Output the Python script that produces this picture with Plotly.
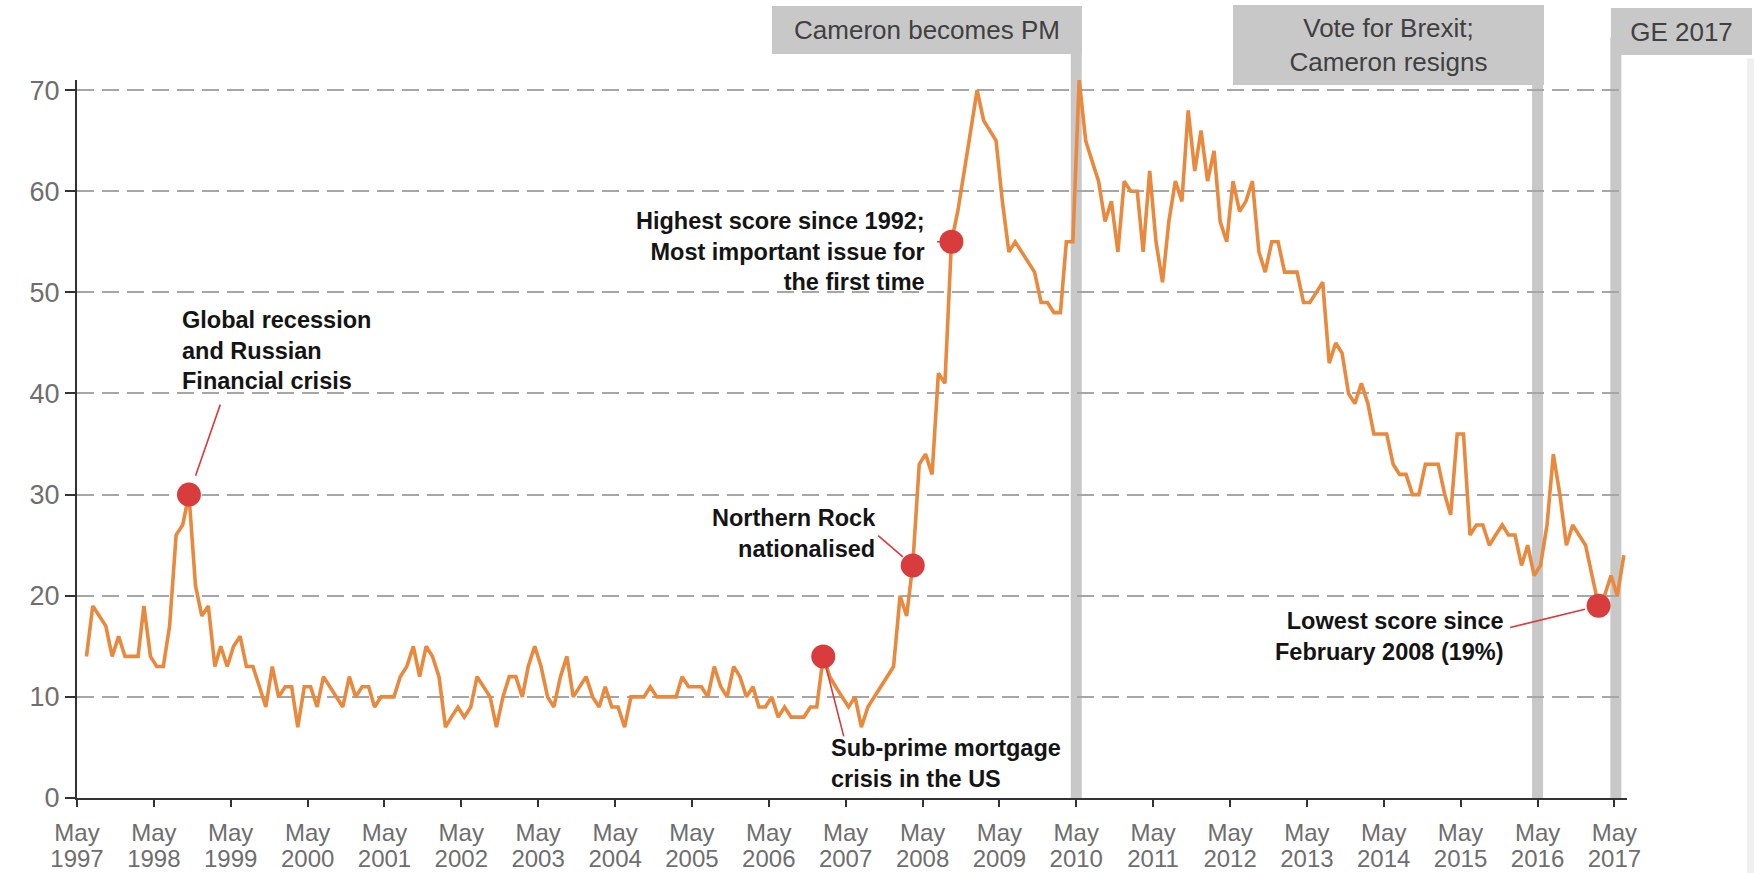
import plotly.graph_objects as go

# ---------------- data ----------------
survey_months = [
    "1997-06", "1997-07", "1997-08", "1997-09", "1997-10", "1997-11", "1997-12",
    "1998-01", "1998-02", "1998-03", "1998-04", "1998-05", "1998-06", "1998-07", "1998-08", "1998-09", "1998-10", "1998-11", "1998-12",
    "1999-01", "1999-02", "1999-03", "1999-04", "1999-05", "1999-06", "1999-07", "1999-08", "1999-09", "1999-10", "1999-11", "1999-12",
    "2000-01", "2000-02", "2000-03", "2000-04", "2000-05", "2000-06", "2000-07", "2000-08", "2000-09", "2000-10", "2000-11", "2000-12",
    "2001-01", "2001-02", "2001-03", "2001-04", "2001-05", "2001-06", "2001-07", "2001-08", "2001-09", "2001-10", "2001-11", "2001-12",
    "2002-01", "2002-02", "2002-03", "2002-04", "2002-05", "2002-06", "2002-07", "2002-08", "2002-09", "2002-10", "2002-11", "2002-12",
    "2003-01", "2003-02", "2003-03", "2003-04", "2003-05", "2003-06", "2003-07", "2003-08", "2003-09", "2003-10", "2003-11", "2003-12",
    "2004-01", "2004-02", "2004-03", "2004-04", "2004-05", "2004-06", "2004-07", "2004-08", "2004-09", "2004-10", "2004-11", "2004-12",
    "2005-01", "2005-02", "2005-03", "2005-04", "2005-05", "2005-06", "2005-07", "2005-08", "2005-09", "2005-10", "2005-11", "2005-12",
    "2006-01", "2006-02", "2006-03", "2006-04", "2006-05", "2006-06", "2006-07", "2006-08", "2006-09", "2006-10", "2006-11", "2006-12",
    "2007-01", "2007-02", "2007-03", "2007-04", "2007-05", "2007-06", "2007-07", "2007-08", "2007-09", "2007-10", "2007-11", "2007-12",
    "2008-01", "2008-02", "2008-03", "2008-04", "2008-05", "2008-06", "2008-07", "2008-08", "2008-09", "2008-10", "2008-11", "2008-12",
    "2009-01", "2009-02", "2009-03", "2009-04", "2009-05", "2009-06", "2009-07", "2009-08", "2009-09", "2009-10", "2009-11", "2009-12",
    "2010-01", "2010-02", "2010-03", "2010-04", "2010-05", "2010-06", "2010-07", "2010-08", "2010-09", "2010-10", "2010-11", "2010-12",
    "2011-01", "2011-02", "2011-03", "2011-04", "2011-05", "2011-06", "2011-07", "2011-08", "2011-09", "2011-10", "2011-11", "2011-12",
    "2012-01", "2012-02", "2012-03", "2012-04", "2012-05", "2012-06", "2012-07", "2012-08", "2012-09", "2012-10", "2012-11", "2012-12",
    "2013-01", "2013-02", "2013-03", "2013-04", "2013-05", "2013-06", "2013-07", "2013-08", "2013-09", "2013-10", "2013-11", "2013-12",
    "2014-01", "2014-02", "2014-03", "2014-04", "2014-05", "2014-06", "2014-07", "2014-08", "2014-09", "2014-10", "2014-11", "2014-12",
    "2015-01", "2015-02", "2015-03", "2015-04", "2015-05", "2015-06", "2015-07", "2015-08", "2015-09", "2015-10", "2015-11", "2015-12",
    "2016-01", "2016-02", "2016-03", "2016-04", "2016-05", "2016-06", "2016-07", "2016-08", "2016-09", "2016-10", "2016-11", "2016-12",
    "2017-01", "2017-02", "2017-03", "2017-04", "2017-05", "2017-06",
]

economy_pct = [
    14, 19, 18, 17, 14, 16, 14,
    14, 14, 19, 14, 13, 13, 17, 26, 27, 30, 21, 18,
    19, 13, 15, 13, 15, 16, 13, 13, 11, 9, 13, 10,
    11, 11, 7, 11, 11, 9, 12, 11, 10, 9, 12, 10,
    11, 11, 9, 10, 10, 10, 12, 13, 15, 12, 15, 14,
    12, 7, 8, 9, 8, 9, 12, 11, 10, 7, 10, 12,
    12, 10, 13, 15, 13, 10, 9, 12, 14, 10, 11, 12,
    10, 9, 11, 9, 9, 7, 10, 10, 10, 11, 10, 10,
    10, 10, 12, 11, 11, 11, 10, 13, 11, 10, 13, 12,
    10, 11, 9, 9, 10, 8, 9, 8, 8, 8, 9, 9,
    14, 12, 11, 10, 9, 10, 7, 9, 10, 11, 12, 13,
    20, 18, 23, 33, 34, 32, 42, 41, 55, 58, 62, 66,
    70, 67, 66, 65, 59, 54, 55, 54, 53, 52, 49, 49,
    48, 48, 55, 55, 71, 65, 63, 61, 57, 59, 54, 61,
    60, 60, 54, 62, 55, 51, 57, 61, 59, 68, 62, 66,
    61, 64, 57, 55, 61, 58, 59, 61, 54, 52, 55, 55,
    52, 52, 52, 49, 49, 50, 51, 43, 45, 44, 40, 39,
    41, 39, 36, 36, 36, 33, 32, 32, 30, 30, 33, 33,
    33, 30, 28, 36, 36, 26, 27, 27, 25, 26, 27, 26,
    26, 23, 25, 22, 23, 27, 34, 30, 25, 27, 26, 25,
    22, 19, 20, 22, 20, 24,
]

event_months = ["1998-10", "2007-01", "2008-03", "2008-09", "2017-02"]
event_values = [30, 14, 23, 55, 19]
event_texts = [
    "Global recession<br>and Russian<br>Financial crisis",
    "Sub-prime mortgage<br>crisis in the US",
    "Northern Rock<br>nationalised",
    "Highest score since 1992;<br>Most important issue for<br>the first time",
    "Lowest score since<br>February 2008 (19%)",
]

period_dates = ["2010-05-01", "2016-05-01", "2017-05-08"]
period_labels = ["Cameron becomes PM", "Vote for Brexit;<br>Cameron resigns", "GE 2017"]

tick_dates = ["%d-05-01" % y for y in range(1997, 2018)]
tick_month_labels = ["May"] * len(tick_dates)
tick_year_labels = [str(y) for y in range(1997, 2018)]
y_ticks = [0, 10, 20, 30, 40, 50, 60, 70]

# ---------------- styles / layout positions ----------------
LINE_COLOR = "#E8893E"
DOT_COLOR = "#D83C3C"
BAR_COLOR = "#C8C8C8"
FONT = "Arial, Liberation Sans, sans-serif"
X_RANGE = ["1997-05-01", "2017-06-30"]

# text placement relative to each event dot (px)
txt_style = [
    dict(xanchor="left", align="left", xshift=-9, yshift=144),
    dict(xanchor="left", align="left", xshift=6, yshift=-107),
    dict(xanchor="right", align="right", xshift=-35, yshift=32),
    dict(xanchor="right", align="right", xshift=-24, yshift=-10),
    dict(xanchor="right", align="right", xshift=-93, yshift=-31),
]
# connector lines (tail offset from the dot, px)
arrow_style = [
    dict(ax=32, ay=-92, standoff=20),
    dict(ax=21, ay=82, standoff=12),
    dict(ax=-36, ay=-31, standoff=13),
    dict(ax=-16, ay=0, standoff=11),
    dict(ax=-90, ay=22, standoff=14),
]
box_style = [
    dict(xanchor="right", xshift=5.5, yshift=26, width=310, height=48),
    dict(xanchor="right", xshift=6.3, yshift=-5, width=311, height=80),
    dict(xanchor="left", xshift=-5.3, yshift=25, width=141, height=47),
]

fig = go.Figure()

fig.add_trace(go.Scatter(
    x=[m + "-15" for m in survey_months], y=economy_pct,
    mode="lines", line=dict(color=LINE_COLOR, width=3.6),
    hoverinfo="skip", showlegend=False,
))
fig.add_trace(go.Scatter(
    x=[m + "-15" for m in event_months], y=event_values,
    mode="markers", marker=dict(color=DOT_COLOR, size=24),
    hoverinfo="skip", showlegend=False,
))
# empty trace so the second (year-label) x axis is drawn
fig.add_trace(go.Scatter(x=[], y=[], xaxis="x2", yaxis="y", showlegend=False, hoverinfo="skip"))

shapes = []
for d in period_dates:
    shapes.append(dict(type="line", xref="x", yref="paper", x0=d, x1=d, y0=0, y1=1.06,
                       line=dict(color=BAR_COLOR, width=11), layer="between"))
# faint strip at the far right edge
shapes.append(dict(type="rect", xref="paper", yref="paper", x0=1.0775, x1=1.09, y0=-0.11, y1=1.03,
                   fillcolor="#F0F0F0", line=dict(width=0), layer="below"))

annotations = []
for d, lab, st in zip(period_dates, period_labels, box_style):
    annotations.append(dict(
        x=d, xref="x", y=1, yref="paper", yanchor="bottom", text=lab, showarrow=False,
        bgcolor=BAR_COLOR, borderpad=0, borderwidth=0,
        font=dict(family=FONT, size=26, color="#404040"), **st))

for m, v, t, st, ar in zip(event_months, event_values, event_texts, txt_style, arrow_style):
    annotations.append(dict(
        x=m + "-15", y=v, xref="x", yref="y", text=t, showarrow=False, yanchor="middle",
        font=dict(family=FONT, size=23.5, color="#141414", weight="bold"), **st))
    annotations.append(dict(
        x=m + "-15", y=v, xref="x", yref="y", text=" ", showarrow=True, arrowhead=0,
        arrowwidth=1.6, arrowcolor=DOT_COLOR, axref="pixel", ayref="pixel",
        font=dict(size=1), **ar))

tick_font = dict(family=FONT, size=24, color="#6E6E6E")

fig.update_layout(
    width=1754, height=873,
    margin=dict(l=77, r=127, t=80, b=75),
    paper_bgcolor="white", plot_bgcolor="white",
    shapes=shapes, annotations=annotations,
    showlegend=False,
    xaxis=dict(
        type="date", range=X_RANGE,
        tickmode="array", tickvals=tick_dates, ticktext=tick_month_labels,
        showgrid=False, zeroline=False, automargin=False,
        showline=True, linecolor="#333333", linewidth=2,
        ticks="outside", ticklen=7, tickwidth=2, tickcolor="#333333",
        ticklabelstandoff=5, tickfont=tick_font,
    ),
    xaxis2=dict(
        type="date", range=X_RANGE, overlaying="x", anchor="y", side="bottom",
        tickmode="array", tickvals=tick_dates, ticktext=tick_year_labels,
        showgrid=False, zeroline=False, automargin=False, showline=False,
        ticks="", ticklabelstandoff=44, tickfont=tick_font,
    ),
    yaxis=dict(
        range=[0, 71], tickmode="array", tickvals=y_ticks,
        showgrid=True, gridcolor="#A6A6A6", gridwidth=2, griddash="17px,8px",
        zeroline=False, automargin=False,
        showline=True, linecolor="#333333", linewidth=2,
        ticks="outside", ticklen=10, tickwidth=2, tickcolor="#333333",
        tickfont=dict(family=FONT, size=27, color="#6E6E6E"),
    ),
)

fig.write_html("out.html", config={"displayModeBar": False},
               post_script="document.body.style.margin='0';document.body.style.overflow='hidden';")
